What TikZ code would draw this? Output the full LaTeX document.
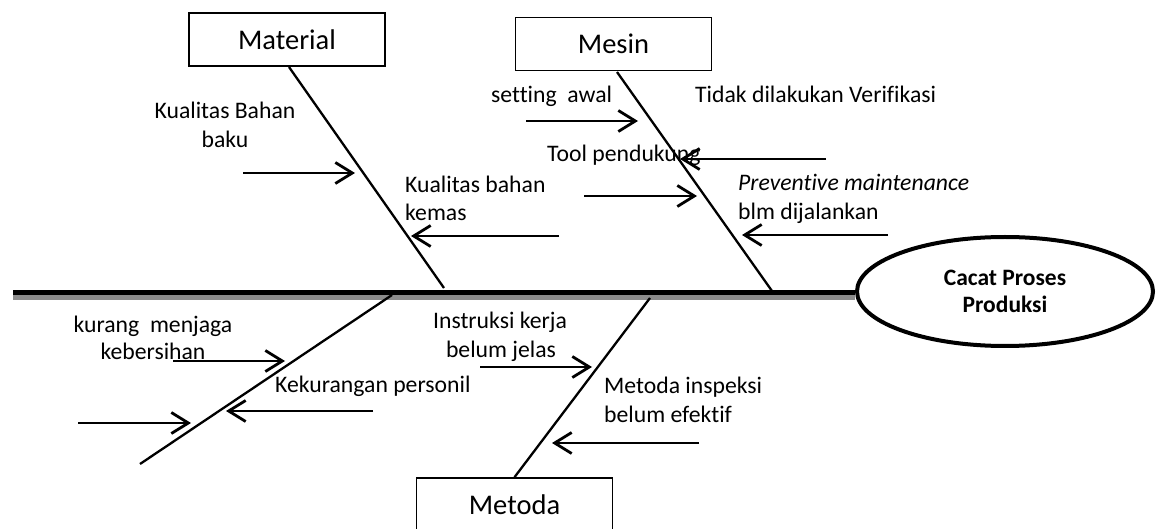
\documentclass[tikz,border=0pt]{standalone}
\usepackage{fontspec}
\setmainfont{Carlito}[Ligatures={NoCommon}]
\usetikzlibrary{arrows.meta,shapes.geometric}
\begin{document}
\begin{tikzpicture}[x=1pt,y=-1pt,
  catbox/.style={draw,line width=1.6pt,minimum width=196pt,minimum height=53pt,inner sep=0pt,
     font=\fontsize{28.5}{34}\selectfont},
  bone/.style={line width=2.3pt},
  arr/.style={line width=2.8pt,-{Straight Barb[length=17pt,width=21pt]}},
  lbl/.style={inner sep=0pt,font=\fontsize{23.7}{29}\selectfont},
  effectnode/.style={draw,ellipse,line width=4pt,minimum width=296pt,minimum height=109pt,inner sep=0pt,
     align=center,font=\fontsize{23.5}{27}\selectfont\bfseries}]
\useasboundingbox (0,0) rectangle (1160,529);

% head and spine
\node[effectnode] (eff) at (1005,291.5) {Cacat Proses\\Produksi};
\coordinate (tail) at (13,292.7);
\coordinate (tailsh) at (13,297.6);
\draw[line width=5pt,black!45] (tailsh) -- (tailsh -| eff.west);
\draw[line width=4.6pt] (tail) -- (tail -| eff.west);

% category boxes
\node[catbox] (mat) at (287,39.5) {Material};
\node[catbox] (mes) at (613.5,44) {Mesin};
\node[catbox] (met) at (514.5,504.5) {Metoda};

% bones
\coordinate (matTop) at (289,67);
\coordinate (matBot) at (444,288);
\coordinate (mesTop) at (617,72);
\coordinate (mesBot) at (772,291);
\coordinate (llTop) at (392,295);
\coordinate (llBot) at (140,464);
\coordinate (metTop) at (650,298);
\draw[bone] (matTop) -- (matBot);
\draw[bone] (mesTop) -- (mesBot);
\draw[bone] (llTop) -- (llBot);
\draw[bone] (metTop) -- (met.north);

% cause arrows
\coordinate (a1s) at (243,173);  \coordinate (a1e) at (355,173);
\coordinate (a2s) at (559,236);  \coordinate (a2e) at (411,236);
\coordinate (a3s) at (526,121);  \coordinate (a3e) at (638,121);
\coordinate (a4s) at (826,159);  \coordinate (a4e) at (680,159);
\coordinate (a5s) at (584,196);  \coordinate (a5e) at (697,196);
\coordinate (a6s) at (888,235);  \coordinate (a6e) at (742,235);
\coordinate (a7s) at (173,361);  \coordinate (a7e) at (285,361);
\coordinate (a8s) at (373,411);  \coordinate (a8e) at (226,411);
\coordinate (a9s) at (78,423);   \coordinate (a9e) at (191,423);
\coordinate (a10s) at (480,367); \coordinate (a10e) at (592,367);
\coordinate (a11s) at (699,443); \coordinate (a11e) at (552,443);
\foreach \i in {1,...,11} {\draw[arr] (a\i s) -- (a\i e);}

% labels
\node[lbl,anchor=base] (t1a) at (225,119) {Kualitas Bahan};
\node[lbl,anchor=base] (t1b) at (225,148) {baku};
\node[lbl,anchor=base west] (t2a) at (405,193) {Kualitas bahan};
\node[lbl,anchor=base west] (t2b) at (405,221) {kemas};
\node[lbl,anchor=base west] (t3) at (491,103) {setting\ \ awal};
\node[lbl,anchor=base west] (t4) at (695,103) {Tidak dilakukan Verifikasi};
\node[lbl,anchor=base west] (t5) at (547,162) {Tool pendukung};
\node[lbl,anchor=base west] (t6a) at (738,191) {\itshape Preventive maintenance};
\node[lbl,anchor=base west] (t6b) at (738,220) {blm dijalankan};
\node[lbl,anchor=base] (t7a) at (153,333) {kurang\ \ menjaga};
\node[lbl,anchor=base] (t7b) at (153,360) {kebersihan};
\node[lbl,anchor=base west] (t8) at (275,392) {Kekurangan personil};
\node[lbl,anchor=base] (t9a) at (500,329) {Instruksi kerja};
\node[lbl,anchor=base] (t9b) at (501,358) {belum jelas};
\node[lbl,anchor=base west] (t10a) at (604,394) {Metoda inspeksi};
\node[lbl,anchor=base west] (t10b) at (604,423) {belum efektif};
\end{tikzpicture}
\end{document}
